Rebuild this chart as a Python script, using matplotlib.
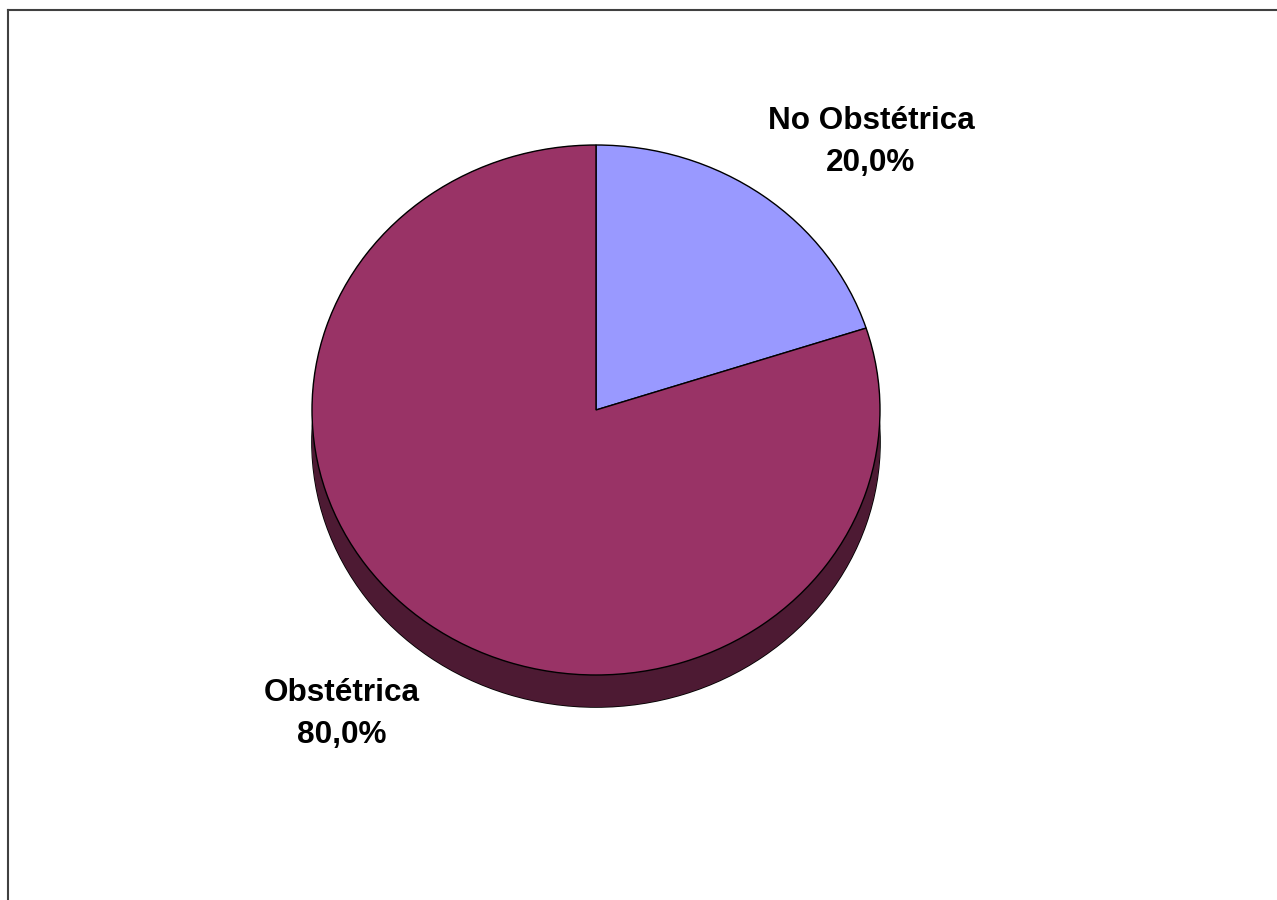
import matplotlib
matplotlib.use("Agg")
import matplotlib.pyplot as plt
import numpy as np
from matplotlib.lines import Line2D

# Data
categories = ['No Obstétrica', 'Obstétrica']
values = [20.0, 80.0]
colors = ['#9999FF', '#993366']
side_colors = ['#4D4D80', '#4D1A33']

W, H = 1277, 900
fig = plt.figure(figsize=(W / 100, H / 100), dpi=100)

# pie geometry in pixels (centre, radii, extrusion depth)
cx, cy, rx, ry, depth = 596, 410, 284, 265, 32
left, right = cx - rx, cx + rx
top, bottom = cy - ry, cy + ry + depth + 15
ax = fig.add_axes([left / W, 1 - bottom / H, (right - left) / W, (bottom - top) / H])

d = depth / ry
# extruded side
ax.pie(values, colors=side_colors, startangle=90, counterclock=False,
       center=(0, -d), radius=1, frame=True,
       wedgeprops=dict(edgecolor='black', linewidth=1.2))
for off in np.linspace(0, d, 20):
    ax.pie(values, colors=side_colors, startangle=90, counterclock=False,
           center=(0, -off), radius=1, frame=True,
           wedgeprops=dict(edgecolor='none', linewidth=0))
# top face
ax.pie(values, colors=colors, startangle=90, counterclock=False,
       center=(0, 0), radius=1, frame=True,
       wedgeprops=dict(edgecolor='black', linewidth=1.0))
ax.set_aspect('auto')
ax.set_xlim(-1, 1)
ax.set_ylim(1 - (bottom - top) / ry, 1)
ax.axis('off')

# labels
label_pos = [(871, 142), (342, 714)]
for cat, val, (lx, ly) in zip(categories, values, label_pos):
    txt = f"{cat}\n{val:.1f}%".replace('.', ',')
    fig.text(lx / W, 1 - ly / H, txt, ha='center', va='center',
             fontsize=22.7, fontweight='bold', family='Liberation Sans',
             linespacing=1.5, color='black')

# chart area border (left and top edges visible)
fig.add_artist(Line2D([8 / W, 8 / W], [0, 1 - 10 / H], transform=fig.transFigure,
                      color='#404040', linewidth=1.5))
fig.add_artist(Line2D([8 / W, 1], [1 - 10 / H, 1 - 10 / H], transform=fig.transFigure,
                      color='#404040', linewidth=1.5))

fig.savefig("out.png", dpi=100)
